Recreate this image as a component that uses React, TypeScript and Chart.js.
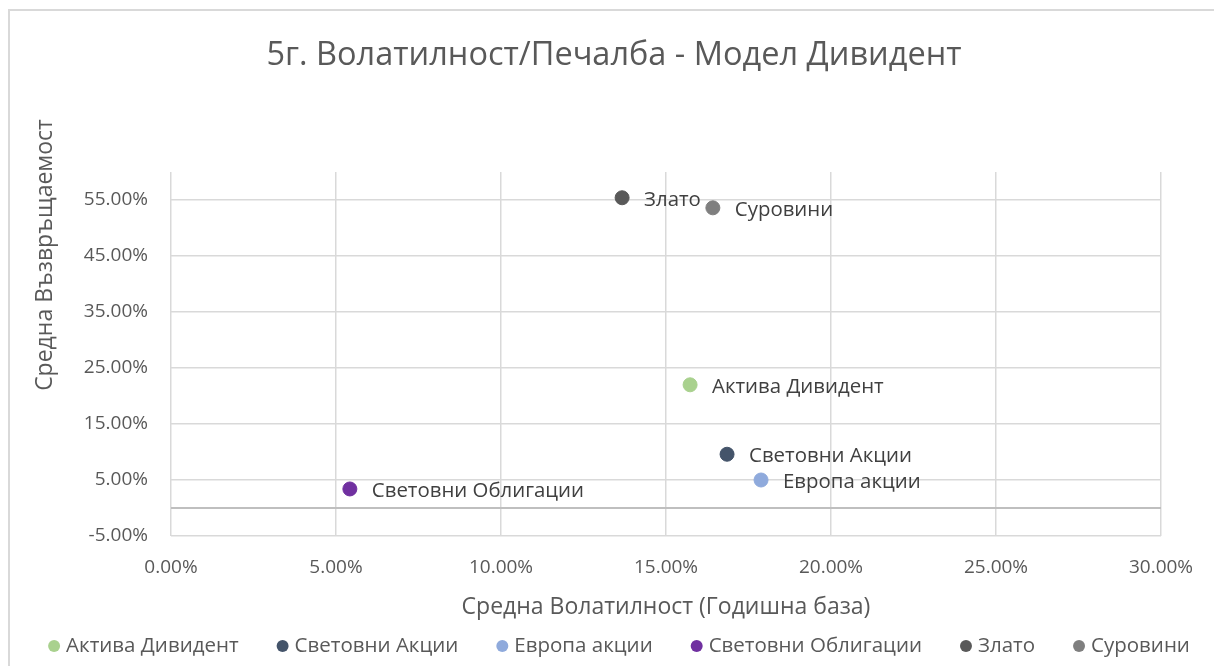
import React, { useEffect, useRef } from "react";
import { Chart, registerables } from "chart.js";

Chart.register(...registerables);

const seriesNames = ["Актива Дивидент", "Световни Акции", "Европа акции", "Световни Облигации", "Злато", "Суровини"];
const volatility = [0.1573, 0.1685, 0.1788, 0.0542, 0.1367, 0.1642];
const returns = [0.220, 0.096, 0.050, 0.034, 0.554, 0.536];
const seriesColors = ["#A9D18E", "#44546A", "#8FAADC", "#7030A0", "#595959", "#7F7F7F"];
const yTickValues = [-0.05, 0.05, 0.15, 0.25, 0.35, 0.45, 0.55];

const chartTitle = "5г. Волатилност/Печалба - Модел Дивидент";
const xTitle = "Средна Волатилност (Годишна база)";
const yTitle = "Средна Възвръщаемост";

const FONT = "'Open Sans', 'Noto Sans', sans-serif";

const pct = (v: number) => (v * 100).toFixed(2) + "%";

const customPlugin = {
  id: "custom",
  beforeDraw(chart: any) {
    const ctx = chart.ctx;
    ctx.save();
    ctx.fillStyle = "#FFFFFF";
    ctx.fillRect(0, 0, chart.width, chart.height);
    ctx.strokeStyle = "#D9D9D9";
    ctx.lineWidth = 2;
    ctx.beginPath();
    ctx.moveTo(9, chart.height + 5);
    ctx.lineTo(9, 10);
    ctx.lineTo(chart.width + 5, 10);
    ctx.stroke();
    ctx.restore();
  },
  beforeDatasetsDraw(chart: any) {
    const ctx = chart.ctx;
    const { left, right } = chart.chartArea;
    const y0 = chart.scales.y.getPixelForValue(0);
    ctx.save();
    ctx.strokeStyle = "#BFBFBF";
    ctx.lineWidth = 2;
    ctx.beginPath();
    ctx.moveTo(left, y0);
    ctx.lineTo(right, y0);
    ctx.stroke();
    ctx.restore();
  },
  afterDraw(chart: any) {
    const ctx = chart.ctx;
    ctx.save();
    // chart title
    ctx.fillStyle = "#595959";
    ctx.font = `32.5px ${FONT}`;
    ctx.textAlign = "center";
    ctx.textBaseline = "middle";
    ctx.fillText(chartTitle, 614, 56);
    // data labels
    ctx.font = `20.4px ${FONT}`;
    ctx.fillStyle = "#404040";
    ctx.textAlign = "left";
    ctx.textBaseline = "middle";
    chart.data.datasets.forEach((ds: any, i: number) => {
      const meta = chart.getDatasetMeta(i);
      meta.data.forEach((pt: any) => {
        ctx.fillText(ds.label, pt.x + 22, pt.y + 2);
      });
    });
    // axis titles
    ctx.fillStyle = "#595959";
    ctx.font = `23px ${FONT}`;
    ctx.textAlign = "center";
    ctx.textBaseline = "middle";
    const { left, right } = chart.chartArea;
    ctx.fillText(xTitle, (left + right) / 2, 607);
    ctx.save();
    ctx.translate(45, 255);
    ctx.rotate(-Math.PI / 2);
    ctx.fillText(yTitle, 0, 0);
    ctx.restore();
    // legend
    ctx.font = `20.5px ${FONT}`;
    ctx.textAlign = "left";
    ctx.textBaseline = "middle";
    const markerD = 12;
    const textOff = 18;
    const gap = 38;
    const widths = chart.data.datasets.map((ds: any) => textOff + ctx.measureText(ds.label).width);
    const total = widths.reduce((a: number, b: number) => a + b, 0) + gap * (widths.length - 1);
    let x = 619 - total / 2;
    const ly = 646;
    chart.data.datasets.forEach((ds: any, i: number) => {
      ctx.fillStyle = ds.backgroundColor;
      ctx.beginPath();
      ctx.arc(x + markerD / 2, ly, markerD / 2, 0, Math.PI * 2);
      ctx.fill();
      ctx.fillStyle = "#595959";
      ctx.fillText(ds.label, x + textOff, ly);
      x += widths[i] + gap;
    });
    ctx.restore();
  },
};

export default function App() {
  const ref = useRef<HTMLCanvasElement>(null);
  useEffect(() => {
    if (!ref.current) return;
    const datasets = seriesNames.map((name, i) => ({
      label: name,
      data: [{ x: volatility[i], y: returns[i] }],
      backgroundColor: seriesColors[i],
      borderColor: seriesColors[i],
      pointRadius: 7,
      pointHoverRadius: 7,
      pointStyle: "circle",
    }));
    const chart = new Chart(ref.current, {
      type: "scatter",
      data: { datasets },
      plugins: [customPlugin],
      options: {
        responsive: false,
        animation: false,
        layout: { padding: { left: 14, right: 53, top: 172, bottom: 0 } },
        plugins: {
          title: { display: false },
          legend: { display: false },
          tooltip: { enabled: false },
        },
        scales: {
          x: {
            type: "linear",
            min: 0,
            max: 0.3,
            ticks: {
              stepSize: 0.05,
              color: "#595959",
              font: { family: FONT, size: 19 },
              padding: 20,
              callback: (v: any) => pct(Number(v)),
              maxRotation: 0,
            },
            grid: { color: "#D9D9D9", lineWidth: 1.5, drawTicks: false },
            border: { display: false },
            afterFit: (scale: any) => {
              scale.height = 130;
            },
          },
          y: {
            type: "linear",
            min: -0.05,
            max: 0.6,
            afterBuildTicks: (scale: any) => {
              scale.ticks = yTickValues.map((v) => ({ value: v }));
            },
            ticks: {
              color: "#595959",
              font: { family: FONT, size: 19 },
              padding: 23,
              callback: (v: any) => pct(Number(v)),
            },
            grid: { color: "#D9D9D9", lineWidth: 1.5, drawTicks: false },
            border: { display: false },
            afterFit: (scale: any) => {
              scale.width = 157;
            },
          },
        },
      },
    });
    return () => chart.destroy();
  }, []);
  return (
    <div style={{ position: "absolute", left: 0, top: 0, width: 1214, height: 666 }}>
      <canvas ref={ref} width={1214} height={666} style={{ display: "block" }} />
    </div>
  );
}
